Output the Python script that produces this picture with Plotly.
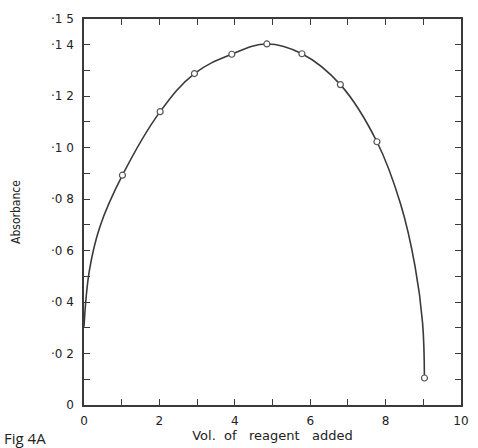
import plotly.graph_objects as go

# Measured points (open circles)
vol_points = [1.02, 2.02, 2.93, 3.92, 4.85, 5.78, 6.80, 7.77, 9.03]
abs_points = [0.0893, 0.1140, 0.1288, 0.1363, 0.1403, 0.1365, 0.1245, 0.1023, 0.0105]

# Smooth curve traced through the picture
curve_vol = [0.0, 0.14, 0.42, 1.02, 2.02, 2.93, 3.92, 4.85, 5.78, 6.80, 7.77, 8.40, 8.78, 8.98, 9.03]
curve_abs = [0.0304, 0.0520, 0.0692, 0.0893, 0.1140, 0.1288, 0.1363, 0.1403, 0.1365,
             0.1245, 0.1023, 0.0780, 0.0540, 0.0320, 0.0105]

y_tickvals = [i / 100 for i in range(16)]
y_ticktext = ["0", "", "·0 2", "", "·0 4", "", "·0 6", "", "·0 8", "", "·1 0", "", "·1 2", "", "·1 4", "·1 5"]
x_tickvals = list(range(11))
x_ticktext = ["0", "", "2", "", "4", "", "6", "", "8", "", "10"]

line_col = "#3a3a3a"
txt_col = "#222222"

fig = go.Figure()
fig.add_trace(go.Scatter(x=curve_vol, y=curve_abs, mode="lines",
                         line=dict(color=line_col, width=1.6, shape="spline", smoothing=1.1),
                         hoverinfo="skip", showlegend=False))
fig.add_trace(go.Scatter(x=vol_points, y=abs_points, mode="markers",
                         marker=dict(symbol="circle", size=6, color="white",
                                     line=dict(color="#555555", width=1.2)),
                         showlegend=False))

axis_common = dict(showline=True, linecolor=line_col, linewidth=1.5, mirror="ticks",
                   ticks="inside", ticklen=6, tickwidth=1.2, tickcolor=line_col,
                   showgrid=False, zeroline=False,
                   tickfont=dict(family="DejaVu Sans", size=12, color=txt_col))

fig.update_xaxes(range=[0, 10], tickmode="array", tickvals=x_tickvals, ticktext=x_ticktext,
                 ticklabelstandoff=4,
                 title=dict(text="Vol.  of   reagent   added", standoff=2,
                            font=dict(family="DejaVu Sans", size=13, color=txt_col)),
                 **axis_common)
fig.update_yaxes(range=[0, 0.15], tickmode="array", tickvals=y_tickvals, ticktext=y_ticktext,
                 ticklabelstandoff=6,
                 title=dict(text="Absorbance", standoff=28,
                            font=dict(family="DejaVu Sans Condensed", size=12, color=txt_col)),
                 **axis_common)

fig.add_annotation(text="Fig 4A", xref="paper", yref="paper", x=-0.218, y=-0.086,
                   xanchor="left", yanchor="middle", showarrow=False,
                   font=dict(family="Open Sans", size=15, color=txt_col))

fig.update_layout(width=478, height=448, margin=dict(l=84, r=9, t=19, b=43),
                  paper_bgcolor="white", plot_bgcolor="white")

fig.write_html("out.html")
